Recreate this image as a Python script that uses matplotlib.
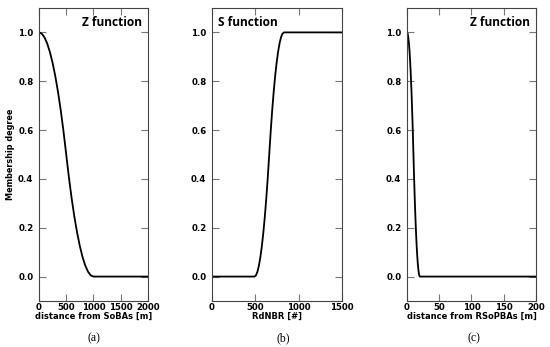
"""
Membership functions used for the fuzzy layers: two Z functions and one S function.
"""

import matplotlib
matplotlib.use("Agg")
import matplotlib.pyplot as plt

# (a) Z function over distance from SoBAs [m]
soba_x = [0, 50, 100, 150, 200, 250, 300, 350, 400, 450, 500, 550, 600, 650,
          700, 750, 800, 850, 900, 950, 1000, 2000]
soba_y = [1.0, 0.995, 0.98, 0.955, 0.92, 0.875, 0.82, 0.755, 0.68, 0.595, 0.5,
          0.405, 0.32, 0.245, 0.18, 0.125, 0.08, 0.045, 0.02, 0.005, 0.0, 0.0]

# (b) S function over RdNBR [#]
rdnbr_x = [0, 490, 507, 524, 541, 558, 575, 592, 609, 626, 643, 660, 677, 694,
           711, 728, 745, 762, 779, 796, 813, 830, 1500]
rdnbr_y = [0.0, 0.0, 0.005, 0.02, 0.045, 0.08, 0.125, 0.18, 0.245, 0.32, 0.405,
           0.5, 0.595, 0.68, 0.755, 0.82, 0.875, 0.92, 0.955, 0.98, 0.995, 1.0, 1.0]

# (c) Z function over distance from RSoPBAs [m]
rsopba_x = [0, 1, 2, 3, 4, 5, 6, 7, 8, 9, 10, 11, 12, 13, 14, 15, 16, 17, 18,
            19, 20, 200]
rsopba_y = [1.0, 0.995, 0.98, 0.955, 0.92, 0.875, 0.82, 0.755, 0.68, 0.595, 0.5,
            0.405, 0.32, 0.245, 0.18, 0.125, 0.08, 0.045, 0.02, 0.005, 0.0, 0.0]

panels = [
    dict(x=soba_x, y=soba_y, xlim=(0, 2000), xticks=[0, 500, 1000, 1500, 2000],
         xlabel="distance from SoBAs [m]", title="Z function", title_right=True,
         caption="(a)", rect=[0.0709, 0.1326, 0.198, 0.8444], cap_x=0.170),
    dict(x=rdnbr_x, y=rdnbr_y, xlim=(0, 1500), xticks=[0, 500, 1000, 1500],
         xlabel="RdNBR [#]", title="S function", title_right=False,
         caption="(b)", rect=[0.3855, 0.1326, 0.2364, 0.8444], cap_x=0.515),
    dict(x=rsopba_x, y=rsopba_y, xlim=(0, 200), xticks=[0, 50, 100, 150, 200],
         xlabel="distance from RSoPBAs [m]", title="Z function", title_right=True,
         caption="(c)", rect=[0.740, 0.1326, 0.2345, 0.8444], cap_x=0.862),
]

fig = plt.figure(figsize=(5.5, 3.47), dpi=100)

for i, p in enumerate(panels):
    ax = fig.add_axes(p["rect"])
    ax.plot(p["x"], p["y"], color="black", lw=1.3)
    ax.set_xlim(*p["xlim"])
    ax.set_ylim(-0.1, 1.1)
    ax.set_xticks(p["xticks"])
    ax.set_yticks([0.0, 0.2, 0.4, 0.6, 0.8, 1.0])
    ax.set_yticklabels(["0.0", "0.2", "0.4", "0.6", "0.8", "1.0"])
    ax.tick_params(direction="in", length=5, width=0.8, color="#777777",
                   top=True, right=True, labelsize=6.2)
    ax.tick_params(axis="x", pad=1.5)
    ax.tick_params(axis="y", pad=4)
    for lab in ax.get_xticklabels() + ax.get_yticklabels():
        lab.set_fontweight("bold")
    for s in ax.spines.values():
        s.set_color("#444444")
        s.set_linewidth(0.8)
    ax.set_xlabel(p["xlabel"], fontsize=6.0, fontweight="bold", labelpad=0)
    if i == 0:
        ax.set_ylabel("Membership degree", fontsize=5.9, fontweight="bold", labelpad=2)

    # panel title inside the axes
    if p["title_right"]:
        ax.text(0.95, 0.952, p["title"], transform=ax.transAxes, ha="right",
                va="center", fontsize=8.6, fontweight="bold", family="Open Sans")
    else:
        ax.text(0.045, 0.952, p["title"], transform=ax.transAxes, ha="left",
                va="center", fontsize=8.6, fontweight="bold", family="Open Sans")

    fig.text(p["cap_x"], 1 - 338 / 347, p["caption"], ha="center", va="center",
             fontsize=8.5, family="Liberation Serif")

fig.savefig("out.png", dpi=100)
